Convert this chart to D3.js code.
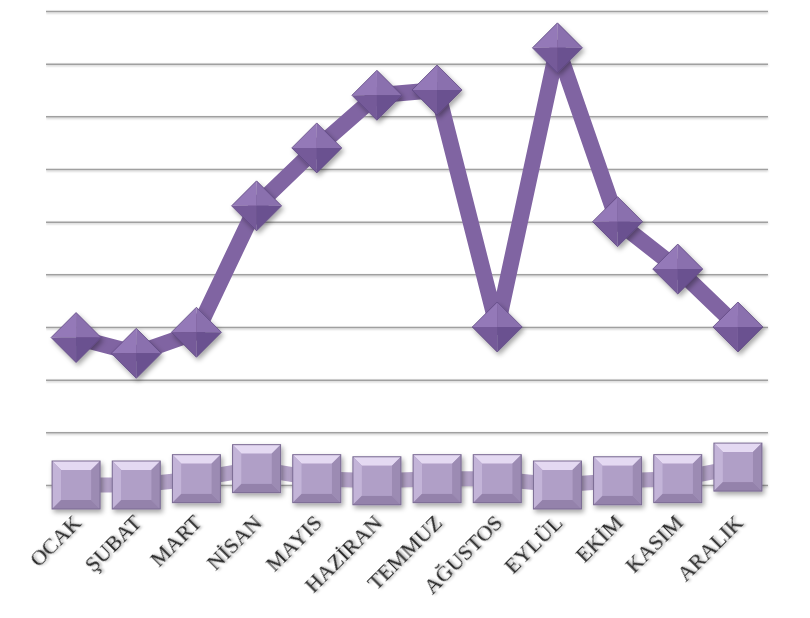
<!DOCTYPE html>
<html><head><meta charset="utf-8">
<script src="https://cdn.jsdelivr.net/npm/d3@7"></script>
<style>body{margin:0;background:#fff}svg{display:block}</style>
</head><body>
<svg id="c" width="810" height="618"></svg>
<script>
const months = ["OCAK","ŞUBAT","MART","NİSAN","MAYIS","HAZİRAN","TEMMUZ","AĞUSTOS","EYLÜL","EKİM","KASIM","ARALIK"];
const seriesA = [28, 25, 29, 53, 64, 74, 75, 30, 83, 50, 41, 30];
const seriesB = [0, 0, 1.2, 3.1, 1.2, 0.8, 1.2, 1.2, 0, 0.8, 1.2, 3.4];
const yTicks = [0,10,20,30,40,50,60,70,80,90];

const svg = d3.select("#c");
const x = d3.scalePoint().domain(months).range([46, 768]).padding(0.5);
const y = d3.scaleLinear().domain([0, 90]).range([485, 11]);

const defs = svg.append("defs");
const f = defs.append("filter").attr("id","sh").attr("x","-30%").attr("y","-30%").attr("width","170%").attr("height","170%");
f.append("feDropShadow").attr("dx",2).attr("dy",3).attr("stdDeviation",2.5).attr("flood-color","#000").attr("flood-opacity",0.35);
const ft = defs.append("filter").attr("id","tsh");
ft.append("feDropShadow").attr("dx",1.5).attr("dy",1.5).attr("stdDeviation",1.2).attr("flood-color","#000").attr("flood-opacity",0.35);
const fg = defs.append("filter").attr("id","gsh").attr("filterUnits","userSpaceOnUse")
  .attr("x",0).attr("y",0).attr("width",810).attr("height",618);
fg.append("feDropShadow").attr("dx",0).attr("dy",1).attr("stdDeviation",0.8).attr("flood-color","#000").attr("flood-opacity",0.25);

// gridlines via axis
const grid = svg.append("g").attr("transform","translate(46,0)").attr("filter","url(#gsh)")
  .call(d3.axisRight(y).tickValues(yTicks).tickSize(722).tickFormat(""));
grid.select(".domain").remove();
grid.selectAll("line").attr("stroke","#a0a0a0").attr("stroke-width",1.5);

// x labels
const xa = svg.append("g").attr("transform","translate(0,485)")
  .call(d3.axisBottom(x).tickSize(0).tickFormat(d=>d));
xa.select(".domain").remove();
xa.selectAll("text")
  .attr("font-family","'Liberation Serif', 'DejaVu Serif', serif")
  .attr("font-size",22).attr("fill","#2a2a2a")
  .attr("text-anchor","end").attr("dy",0).attr("y",0)
  .attr("transform","translate(6,39) rotate(-45)")
  .attr("filter","url(#tsh)");

// series B line + squares
const line = d3.line().x((d,i)=>x(months[i])).y(d=>y(d));
svg.append("path").datum(seriesB).attr("d",line).attr("fill","none")
  .attr("stroke","#b3a2c7").attr("stroke-width",15).attr("stroke-linejoin","round");

const sq = 48, b = 9;
const gB = svg.append("g").selectAll("g").data(seriesB).join("g")
  .attr("transform",(d,i)=>`translate(${x(months[i])},${y(d)})`).attr("filter","url(#sh)");
const h = sq/2, ih = h-b;
gB.append("rect").attr("x",-h).attr("y",-h).attr("width",sq).attr("height",sq).attr("fill","#ad9cc4");
gB.append("path").attr("d",`M${-h},${-h}L${h},${-h}L${ih},${-ih}L${-ih},${-ih}Z`).attr("fill","#e4d9f2");
gB.append("path").attr("d",`M${-h},${-h}L${-ih},${-ih}L${-ih},${ih}L${-h},${h}Z`).attr("fill","#c3b4d8");
gB.append("path").attr("d",`M${h},${-h}L${h},${h}L${ih},${ih}L${ih},${-ih}Z`).attr("fill","#9c8bb3");
gB.append("path").attr("d",`M${-h},${h}L${-ih},${ih}L${ih},${ih}L${h},${h}Z`).attr("fill","#9482ab");
gB.append("rect").attr("x",-ih).attr("y",-ih).attr("width",2*ih).attr("height",2*ih).attr("fill","#b09fc7");
gB.append("rect").attr("x",-h).attr("y",-h).attr("width",sq).attr("height",sq).attr("fill","none").attr("stroke","#7a6a92").attr("stroke-width",1);

// series A line + diamonds
svg.append("path").datum(seriesA).attr("d",line).attr("fill","none")
  .attr("stroke","#8064a2").attr("stroke-width",16).attr("stroke-linejoin","round");

const r = 25;
const gA = svg.append("g").selectAll("g").data(seriesA).join("g")
  .attr("transform",(d,i)=>`translate(${x(months[i])},${y(d)})`).attr("filter","url(#sh)");
gA.append("path").attr("d",`M0,0L${-r},0L0,${-r}Z`).attr("fill","#9479b8");
gA.append("path").attr("d",`M0,0L0,${-r}L${r},0Z`).attr("fill","#8a6fae");
gA.append("path").attr("d",`M0,0L${r},0L0,${r}Z`).attr("fill","#6a5190");
gA.append("path").attr("d",`M0,0L0,${r}L${-r},0Z`).attr("fill","#745a99");
gA.append("path").attr("d",`M${-r},0L0,${-r}L${r},0L0,${r}Z`).attr("fill","none").attr("stroke","#5e4782").attr("stroke-width",0.8);
</script>
</body></html>
